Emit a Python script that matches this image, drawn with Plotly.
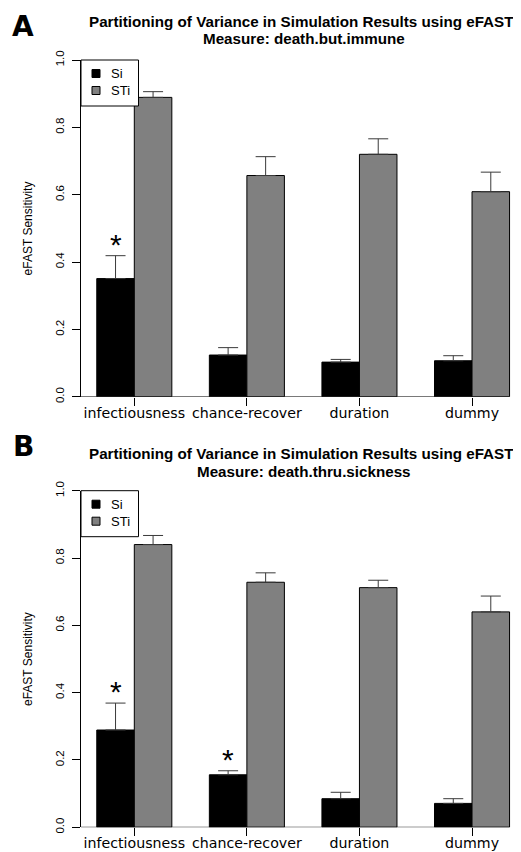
import plotly.graph_objects as go

# ---------------- data ----------------
categories = ["infectiousness", "chance-recover", "duration", "dummy"]

si_A = [0.351, 0.124, 0.103, 0.107]
si_A_err = [0.068, 0.022, 0.008, 0.015]
sti_A = [0.889, 0.657, 0.720, 0.609]
sti_A_err = [0.017, 0.056, 0.046, 0.058]

si_B = [0.289, 0.156, 0.085, 0.071]
si_B_err = [0.080, 0.012, 0.019, 0.014]
sti_B = [0.840, 0.728, 0.712, 0.640]
sti_B_err = [0.027, 0.028, 0.022, 0.047]

stars_A = [True, False, False, False]
stars_B = [True, True, False, False]

titles_A = ["Partitioning of Variance in Simulation Results using eFAST", "Measure: death.but.immune"]
titles_B = ["Partitioning of Variance in Simulation Results using eFAST", "Measure: death.thru.sickness"]

y_ticks = [0.0, 0.2, 0.4, 0.6, 0.8, 1.0]
y_ticktext = ["0.0", "0.2", "0.4", "0.6", "0.8", "1.0"]

# ---------------- geometry helpers ----------------
# the page body has an 8px margin, so the figure starts at (8, 8) in the window
OFF = 8
WIN_W, WIN_H = 521, 852
W, H = WIN_W - OFF, WIN_H - OFF
PLOT_LEFT = 81  # window pixel of the y axis line
ML = PLOT_LEFT - OFF
PW = W - ML


def px(xp):
    return (xp - PLOT_LEFT) / PW


def py(yp):
    return 1 - (yp - OFF) / H


X_RANGE = [-0.4735, 3.435]
CAT_PX = PW / (X_RANGE[1] - X_RANGE[0])
BARGAP = 1 / 3
HALF_BAR_OFFSET = (1 - BARGAP) / 4  # offset of each bar centre from category centre

panels = [
    dict(si=si_A, si_err=si_A_err, sti=sti_A, sti_err=sti_A_err, stars=stars_A,
         titles=titles_A, letter="A", top=60.0, bottom=396.8, xa="x", ya="y",
         letter_y=26.5, t1=21.7, t2=38.7),
    dict(si=si_B, si_err=si_B_err, sti=sti_B, sti_err=sti_B_err, stars=stars_B,
         titles=titles_B, letter="B", top=490.7, bottom=827.3, xa="x2", ya="y2",
         letter_y=446, t1=453.5, t2=471.2),
]

fig = go.Figure()
annotations = []
shapes = []

AX_FONT = "Liberation Sans, Arial, Helvetica, sans-serif"
CAT_FONT = "DejaVu Sans, sans-serif"

for p in panels:
    err_style = dict(type="data", symmetric=False, color="#3a3a3a", thickness=1, width=10)
    fig.add_trace(go.Bar(
        x=categories, y=p["si"], name="Si",
        marker=dict(color="#000000", line=dict(color="#000000", width=1)),
        error_y=dict(array=p["si_err"], arrayminus=[0] * len(categories), **err_style),
        xaxis=p["xa"], yaxis=p["ya"], showlegend=False, offsetgroup="si",
    ))
    fig.add_trace(go.Bar(
        x=categories, y=p["sti"], name="STi",
        marker=dict(color="#808080", line=dict(color="#000000", width=1)),
        error_y=dict(array=p["sti_err"], arrayminus=[0] * len(categories), **err_style),
        xaxis=p["xa"], yaxis=p["ya"], showlegend=False, offsetgroup="sti",
    ))

    # significance stars above Si error bars
    for c, v, e, s in zip(categories, p["si"], p["si_err"], p["stars"]):
        if s:
            annotations.append(dict(
                x=c, y=v + e, xref=p["xa"], yref=p["ya"], text="*", showarrow=False,
                xshift=-HALF_BAR_OFFSET * CAT_PX, yanchor="bottom", yshift=-7,
                font=dict(family=AX_FONT, size=30, color="#000000"),
            ))

    # baseline from axis to the right edge of last bar
    shapes.append(dict(
        type="line", xref=p["xa"], yref=p["ya"], x0=X_RANGE[0], x1=len(categories) - 1 + (1 - BARGAP) / 2,
        y0=0, y1=0, line=dict(color="#000000", width=1),
    ))

    # titles
    annotations.append(dict(x=px(301), y=py(p["t1"]), xref="paper", yref="paper",
                            text="<b>%s</b>" % p["titles"][0], showarrow=False,
                            xanchor="center", yanchor="middle",
                            font=dict(family=AX_FONT, size=15.2, color="#000000")))
    annotations.append(dict(x=px(304), y=py(p["t2"]), xref="paper", yref="paper",
                            text="<b>%s</b>" % p["titles"][1], showarrow=False,
                            xanchor="center", yanchor="middle",
                            font=dict(family=AX_FONT, size=15.2, color="#000000")))
    # panel letter
    annotations.append(dict(x=px(23), y=py(p["letter_y"]), xref="paper", yref="paper",
                            text="<b>%s</b>" % p["letter"], showarrow=False,
                            xanchor="center", yanchor="middle",
                            font=dict(family="DejaVu Sans, sans-serif", size=28, color="#000000")))
    # y axis title
    annotations.append(dict(x=px(28), y=py((p["top"] + p["bottom"]) / 2), xref="paper", yref="paper",
                            text="eFAST Sensitivity", showarrow=False, textangle=-90,
                            xanchor="center", yanchor="middle",
                            font=dict(family=AX_FONT, size=12, color="#000000")))

    # legend box
    t = p["top"]
    shapes.append(dict(type="rect", xref="paper", yref="paper",
                       x0=px(81), x1=px(138.5), y0=py(t), y1=py(t + 46),
                       line=dict(color="#000000", width=1), fillcolor="#ffffff", layer="above"))
    for (dy, col, lab) in [(13.5, "#000000", "Si"), (30.5, "#808080", "STi")]:
        shapes.append(dict(type="rect", xref="paper", yref="paper",
                           x0=px(92), x1=px(100), y0=py(t + dy - 4), y1=py(t + dy + 4),
                           line=dict(color="#000000", width=1), fillcolor=col, layer="above"))
        annotations.append(dict(x=px(109), y=py(t + dy), xref="paper", yref="paper",
                                text=lab, showarrow=False, xanchor="left", yanchor="middle",
                                font=dict(family=AX_FONT, size=13, color="#000000")))

xaxis_common = dict(
    type="category", range=X_RANGE, domain=[0, 1], showline=False, showgrid=False,
    zeroline=False, ticks="outside", ticklen=8, tickwidth=1, tickcolor="#000000",
    tickfont=dict(family=CAT_FONT, size=14.2, color="#000000"), automargin=False,
    ticklabelstandoff=-5,
)
yaxis_common = dict(
    range=[0, 1], tickvals=y_ticks, ticktext=y_ticktext, tickangle=-90,
    showline=True, linecolor="#000000", linewidth=1, showgrid=False, zeroline=False,
    ticks="outside", ticklen=8, tickwidth=1, tickcolor="#000000",
    tickfont=dict(family=AX_FONT, size=11.5, color="#000000"), ticklabelstandoff=3,
    automargin=False,
)

fig.update_layout(
    width=W, height=H,
    margin=dict(l=ML, r=0, t=0, b=0, autoexpand=False),
    paper_bgcolor="#ffffff", plot_bgcolor="#ffffff",
    barmode="group", bargap=BARGAP, bargroupgap=0,
    xaxis=dict(anchor="y", **xaxis_common),
    xaxis2=dict(anchor="y2", **xaxis_common),
    yaxis=dict(anchor="x", domain=[py(panels[0]["bottom"]), py(panels[0]["top"])], **yaxis_common),
    yaxis2=dict(anchor="x2", domain=[py(panels[1]["bottom"]), py(panels[1]["top"])], **yaxis_common),
    annotations=annotations,
    shapes=shapes,
    showlegend=False,
)

fig.write_html("out.html")
